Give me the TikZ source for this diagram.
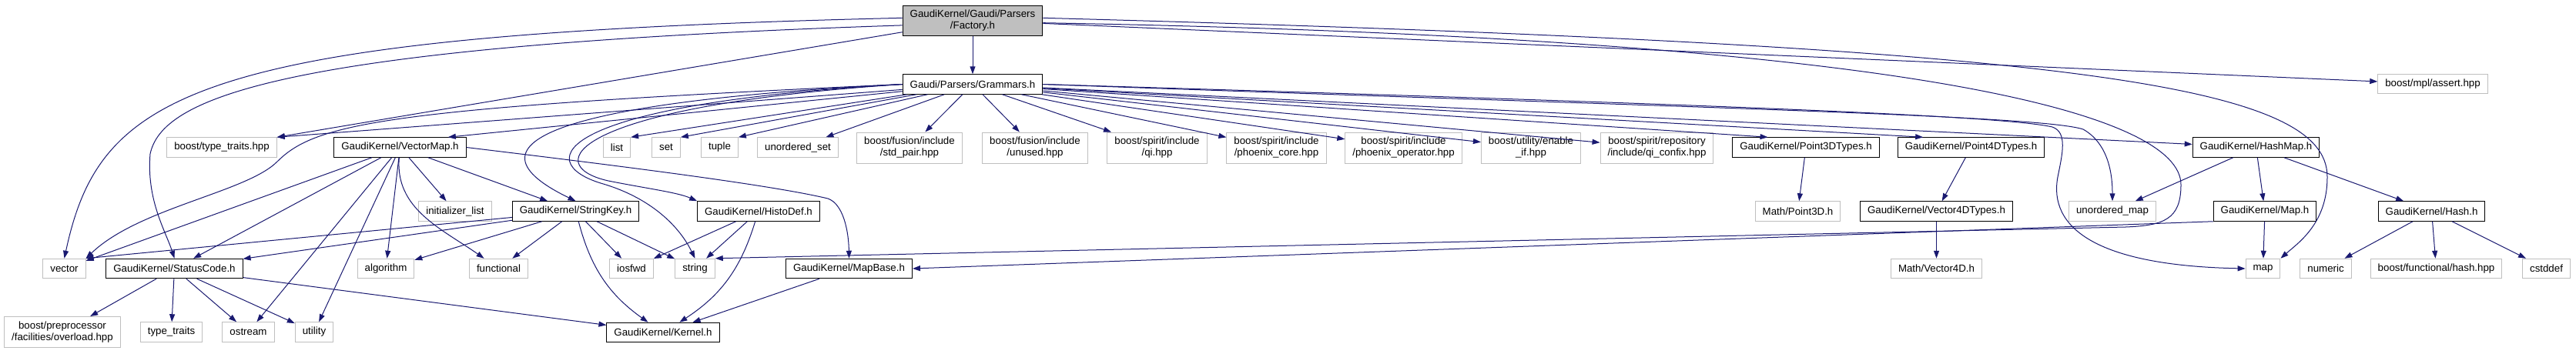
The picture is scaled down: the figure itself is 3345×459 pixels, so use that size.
\documentclass[tikz,border=0pt]{standalone}
\usepackage{fontspec}
\setmainfont{Liberation Sans}
\usetikzlibrary{arrows.meta}
\definecolor{edgeblue}{RGB}{25,25,112}
\definecolor{boxgray}{RGB}{191,191,191}
\tikzset{box/.style={draw,line width=1pt,font=\fontsize{13.3}{15}\selectfont,inner xsep=9.5pt,inner ysep=2pt,minimum height=25.5pt,align=center}}
\tikzset{hdr/.style={box,draw=black}}
\tikzset{sys/.style={box,draw=boxgray}}
\tikzset{sys2/.style={sys,minimum height=40pt}}
\tikzset{cur/.style={box,draw=black,fill=boxgray,minimum height=39pt}}
\tikzset{dep/.style={edgeblue,line width=1pt,-{Triangle[length=10pt,width=7pt]}}}

\begin{document}
\begin{tikzpicture}[x=1pt,y=-1pt]
	\useasboundingbox (0,0) rectangle (3345,459);

	\node[cur] (fac) at (1263,26.5) {GaudiKernel/Gaudi/Parsers\\/Factory.h};
	\node[hdr] (gram) at (1263,109.5) {Gaudi/Parsers/Grammars.h};
	\node[sys] (assert) at (3159,109) {boost/mpl/assert.hpp};

	\node[sys] (tt) at (288,191.5) {boost/type\_traits.hpp};
	\node[hdr] (vecmap) at (519.5,191.5) {GaudiKernel/VectorMap.h};
	\node[sys] (list) at (801,191.5) {list};
	\node[sys] (set) at (865,191.5) {set};
	\node[sys] (tuple) at (934.5,191.5) {tuple};
	\node[sys] (uset) at (1036,191.5) {unordered\_set};
	\node[sys2] (stdpair) at (1181,192) {boost/fusion/include\\/std\_pair.hpp};
	\node[sys2] (unused) at (1344,192) {boost/fusion/include\\/unused.hpp};
	\node[sys2] (qi) at (1502.5,192) {boost/spirit/include\\/qi.hpp};
	\node[sys2] (pcore) at (1657.5,192) {boost/spirit/include\\/phoenix\_core.hpp};
	\node[sys2] (pop) at (1822.5,192) {boost/spirit/include\\/phoenix\_operator.hpp};
	\node[sys2] (enable) at (1988,192) {boost/utility/enable\\\_if.hpp};
	\node[sys2] (confix) at (2151.5,192) {boost/spirit/repository\\/include/qi\_confix.hpp};
	\node[hdr] (p3dt) at (2345,191.5) {GaudiKernel/Point3DTypes.h};
	\node[hdr] (p4dt) at (2559.5,191.5) {GaudiKernel/Point4DTypes.h};
	\node[hdr] (hashmap) at (2929.5,191.5) {GaudiKernel/HashMap.h};

	\node[sys] (initlist) at (591,274.5) {initializer\_list};
	\node[hdr] (sk) at (747.5,274.5) {GaudiKernel/StringKey.h};
	\node[hdr] (histo) at (985,274.5) {GaudiKernel/HistoDef.h};
	\node[sys] (p3d) at (2334.5,274.5) {Math/Point3D.h};
	\node[hdr] (v4dt) at (2514.5,274.5) {GaudiKernel/Vector4DTypes.h};
	\node[sys] (umap) at (2743,274.5) {unordered\_map};
	\node[hdr] (maph) at (2941,274.5) {GaudiKernel/Map.h};
	\node[hdr] (hash) at (3157.5,274.5) {GaudiKernel/Hash.h};

	\node[sys] (vector) at (83.5,349) {vector};
	\node[hdr] (status) at (226.5,349) {GaudiKernel/StatusCode.h};
	\node[sys] (algo) at (501,349) {algorithm};
	\node[sys] (functional) at (647.5,349) {functional};
	\node[sys] (iosfwd) at (820,349) {iosfwd};
	\node[sys] (string) at (902.5,349) {string};
	\node[hdr] (mapbase) at (1102.5,349) {GaudiKernel/MapBase.h};
	\node[sys] (v4d) at (2514.5,349) {Math/Vector4D.h};
	\node[sys] (map) at (2938.5,349) {map};
	\node[sys] (numeric) at (3020,349) {numeric};
	\node[sys] (fhash) at (3163.5,349) {boost/functional/hash.hpp};
	\node[sys] (cstddef) at (3306.5,349) {cstddef};

	\node[sys2] (pre) at (81,431.5) {boost/preprocessor\\/facilities/overload.hpp};
	\node[sys] (ttraits) at (222.5,431.5) {type\_traits};
	\node[sys] (ostream) at (322.5,431.5) {ostream};
	\node[sys] (utility) at (408,431.5) {utility};
	\node[hdr] (kernel) at (861,432) {GaudiKernel/Kernel.h};

	\draw[dep] (fac) -- (gram);
	\draw[dep] (fac) -- (tt.north east);
	\draw[dep] (fac) -- (assert);
	\draw[dep] (fac.178) .. controls (250,45) and (130,120) .. (vector.north);
	\draw[dep] (fac.184) .. controls (350,60) and (210,130) .. (195,200) .. controls (190,260) and (215,300) .. (status.north);
	\draw[dep] (fac.2) .. controls (2700,60) and (3022,110) .. (3022,230) .. controls (3022,290) and (2985,315) .. (map.north east);
	\draw[dep] (fac.358) .. controls (2500,50) and (2832,150) .. (2832,240) .. controls (2832,285) and (2810,293) .. (2760,295) -- (string.north east);

	\foreach \t/\a in {vecmap/12,list/north east,set/north east,tuple/north east,uset/20,p3dt/165,p4dt/168}{
		\draw[dep] (gram) -- (\t.\a);
	}
	\foreach \t in {stdpair,unused,qi,pcore,pop,enable,confix,hashmap}{
		\draw[dep] (gram) -- (\t);
	}
	\draw[dep] (gram) -- (tt.north east);
	\draw[dep] (gram.west) .. controls (500,140) and (410,160) .. (360,210) .. controls (320,250) and (180,270) .. (vector.north east);
	\draw[dep] (gram.west) .. controls (760,130) and (580,180) .. (sk.north);
	\draw[dep] (gram.west) .. controls (720,135) and (690,210) .. (780,238) .. controls (840,255) and (880,290) .. (string.north);
	\draw[dep] (gram.west) .. controls (740,138) and (700,215) .. (790,235) .. controls (840,245) and (880,250) .. (histo.north west);
	\draw[dep] (gram.east) .. controls (2200,140) and (2650,150) .. (2705,168) .. controls (2735,185) and (2743,220) .. (umap.north);
	\draw[dep] (gram.east) .. controls (2200,135) and (2600,150) .. (2665,165) .. controls (2685,172) and (2678,200) .. (2672,230) .. controls (2660,295) and (2720,345) .. (map.west);

	\foreach \t in {vector,status,algo,initlist,sk,ostream,utility}{
		\draw[dep] (vecmap) -- (\t);
	}
	\draw[dep] (vecmap) to[out=-95,in=145] (functional);
	\draw[dep] (vecmap.east) .. controls (800,215) and (1000,240) .. (1075,258) .. controls (1095,265) and (1102,300) .. (mapbase.north);

	\draw[dep] (sk) -- (vector.north east);
	\foreach \t in {status,algo,functional,iosfwd,string}{
		\draw[dep] (sk) -- (\t);
	}
	\draw[dep] (sk) to[bend right=20] (kernel);
	\foreach \t in {iosfwd,string}{
		\draw[dep] (histo) -- (\t);
	}
	\draw[dep] (histo) to[bend left=20] (kernel);
	\foreach \t in {pre,ttraits,ostream,utility,kernel}{
		\draw[dep] (status) -- (\t);
	}
	\draw[dep] (mapbase) -- (kernel);

	\draw[dep] (p3dt) -- (p3d);
	\draw[dep] (p4dt) -- (v4dt);
	\draw[dep] (v4dt) -- (v4d);
	\foreach \t in {umap,maph,hash}{
		\draw[dep] (hashmap) -- (\t);
	}
	\draw[dep] (maph) -- (map);
	\draw[dep] (maph.south west) -- (mapbase.east);
	\foreach \t in {numeric,fhash,cstddef}{
		\draw[dep] (hash) -- (\t);
	}
\end{tikzpicture}
\end{document}
